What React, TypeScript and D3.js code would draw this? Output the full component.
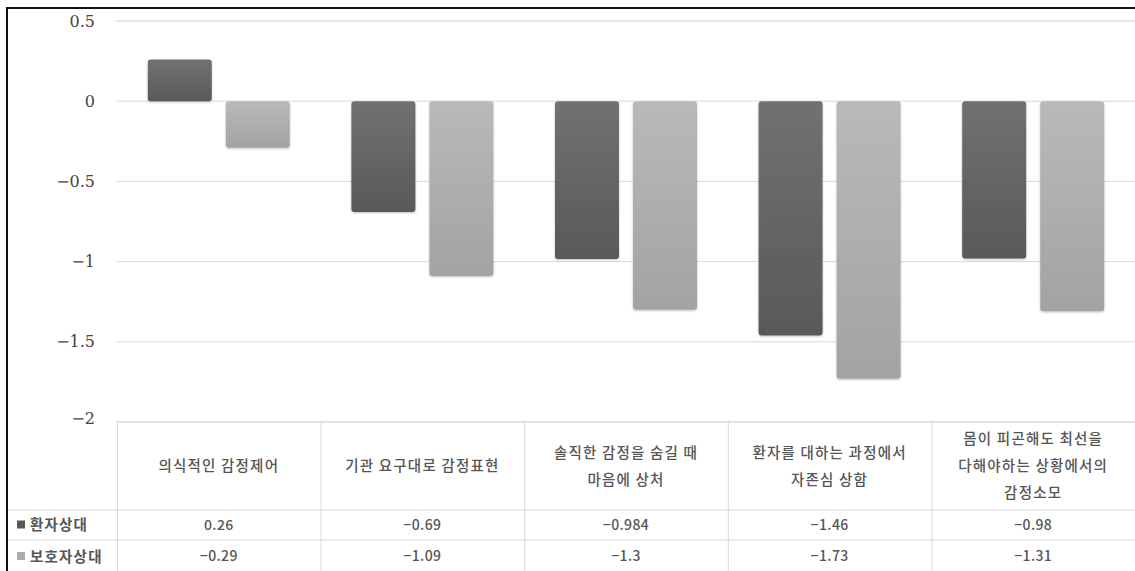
import React from "react";
import * as d3 from "d3";

const categories: string[][] = [
  ["의식적인 감정제어"],
  ["기관 요구대로 감정표현"],
  ["솔직한 감정을 숨길 때", "마음에 상처"],
  ["환자를 대하는 과정에서", "자존심 상함"],
  ["몸이 피곤해도 최선을", "다해야하는 상황에서의", "감정소모"],
];
const seriesNames = ["환자상대", "보호자상대"];
const patientValues = [0.26, -0.69, -0.984, -1.46, -0.98];
const guardianValues = [-0.29, -1.09, -1.3, -1.73, -1.31];
const valueLabels = [
  ["0.26", "−0.69", "−0.984", "−1.46", "−0.98"],
  ["−0.29", "−1.09", "−1.3", "−1.73", "−1.31"],
];
const yTicks = [0.5, 0, -0.5, -1, -1.5, -2];

const W = 1135;
const H = 571;
const plotLeft = 117;
const plotRight = 1135;
const yTop = 21;
const yBottom = 422;
const headerBottom = 510;
const row1Bottom = 540;

const seriesColors = [
  { top: "#717171", bottom: "#595959", legend: "#5a5a5a" },
  { top: "#b9b9b9", bottom: "#a3a3a3", legend: "#adadad" },
];

const korFont = "'Noto Sans CJK KR', 'Noto Sans', sans-serif";

export default function App() {
  const y = d3.scaleLinear().domain([-2, 0.5]).range([yBottom, yTop]);
  const x0 = d3
    .scaleBand<number>()
    .domain(d3.range(categories.length))
    .range([plotLeft, plotRight])
    .padding(0);
  const groupHalf = 71;
  const x1 = d3
    .scaleBand<number>()
    .domain([0, 1])
    .range([0, groupHalf * 2])
    .paddingInner(0.18)
    .paddingOuter(0);

  const series = [patientValues, guardianValues];
  const fmt = (v: number) => (v < 0 ? "−" + String(Math.abs(v)) : String(v));

  return (
    <svg
      width={W}
      height={H}
      style={{ position: "absolute", left: 0, top: 0, background: "#fff" }}
    >
      <defs>
        {seriesColors.map((c, i) => (
          <linearGradient key={i} id={`g${i}`} x1="0" y1="0" x2="0" y2="1">
            <stop offset="0%" stopColor={c.top} />
            <stop offset="100%" stopColor={c.bottom} />
          </linearGradient>
        ))}
        <filter id="sh" x="-10%" y="-10%" width="120%" height="120%">
          <feDropShadow dx="0" dy="1" stdDeviation="1.2" floodColor="#000" floodOpacity="0.25" />
        </filter>
      </defs>

      {/* gridlines */}
      {yTicks.map((t) => (
        <line
          key={t}
          x1={plotLeft - 1}
          x2={plotRight}
          y1={y(t)}
          y2={y(t)}
          stroke={t === 0.5 ? "#e4e4e4" : "#d9d9d9"}
          strokeWidth={t === 0.5 ? 2 : 1}
        />
      ))}

      {/* y tick labels */}
      {yTicks.map((t) => (
        <text
          key={t}
          x={95}
          y={y(t)}
          dy={t === -2 ? "0.1em" : "0.35em"}
          textAnchor="end"
          fontFamily="'DejaVu Serif', serif"
          fontSize={16}
          fill="#444"
        >
          {fmt(t)}
        </text>
      ))}

      {/* bars */}
      {categories.map((_, ci) => {
        const cx = (x0(ci) as number) + x0.bandwidth() / 2;
        return series.map((vals, si) => {
          const v = vals[ci];
          const bx = cx - groupHalf + (x1(si) as number);
          const y0 = y(0);
          const yv = y(v);
          return (
            <rect
              key={`${ci}-${si}`}
              x={bx}
              y={Math.min(y0, yv)}
              width={x1.bandwidth()}
              height={Math.abs(yv - y0)}
              rx={3}
              fill={`url(#g${si})`}
              filter="url(#sh)"
            />
          );
        });
      })}

      {/* data table */}
      <line x1={plotLeft} x2={plotRight} y1={yBottom} y2={yBottom} stroke="#d9d9d9" />
      <line x1={8} x2={plotRight} y1={headerBottom} y2={headerBottom} stroke="#d9d9d9" />
      <line x1={8} x2={plotRight} y1={row1Bottom} y2={row1Bottom} stroke="#d9d9d9" />
      {d3.range(categories.length).map((ci) => (
        <line
          key={ci}
          x1={(x0(ci) as number) + 0.5}
          x2={(x0(ci) as number) + 0.5}
          y1={yBottom}
          y2={H}
          stroke="#d9d9d9"
        />
      ))}

      {categories.map((lines, ci) => {
        const cx = (x0(ci) as number) + x0.bandwidth() / 2;
        const mid = (yBottom + headerBottom) / 2;
        const lh = 27;
        const start = mid - ((lines.length - 1) * lh) / 2;
        return lines.map((ln, li) => (
          <text
            key={`${ci}-${li}`}
            x={cx}
            y={start + li * lh}
            dy="0.35em"
            textAnchor="middle"
            fontFamily={korFont}
            fontWeight={500}
            fontSize={14.5}
            letterSpacing={1.2}
            fill="#555"
          >
            {ln}
          </text>
        ));
      })}

      {seriesNames.map((name, si) => {
        const rowMid = si === 0 ? (headerBottom + row1Bottom) / 2 : (row1Bottom + H + 1) / 2 + 0.5;
        return (
          <g key={name}>
            <rect x={17} y={rowMid - 4.5} width={8} height={8} fill={seriesColors[si].legend} />
            <text
              x={30}
              y={rowMid}
              dy="0.35em"
              fontFamily={korFont}
              fontWeight={700}
              fontSize={14.5}
              letterSpacing={1.2}
              fill="#555"
            >
              {name}
            </text>
            {valueLabels[si].map((lab, ci) => (
              <text
                key={ci}
                x={(x0(ci) as number) + x0.bandwidth() / 2}
                y={rowMid}
                dy="0.35em"
                textAnchor="middle"
                fontFamily={korFont}
                fontWeight={500}
                fontSize={14}
                letterSpacing={0.4}
                fill="#555"
              >
                {lab}
              </text>
            ))}
          </g>
        );
      })}

      {/* outer frame */}
      <line x1={7} x2={W} y1={8} y2={8} stroke="#111" strokeWidth={2} />
      <line x1={7} x2={7} y1={7} y2={H} stroke="#111" strokeWidth={2} />
    </svg>
  );
}
